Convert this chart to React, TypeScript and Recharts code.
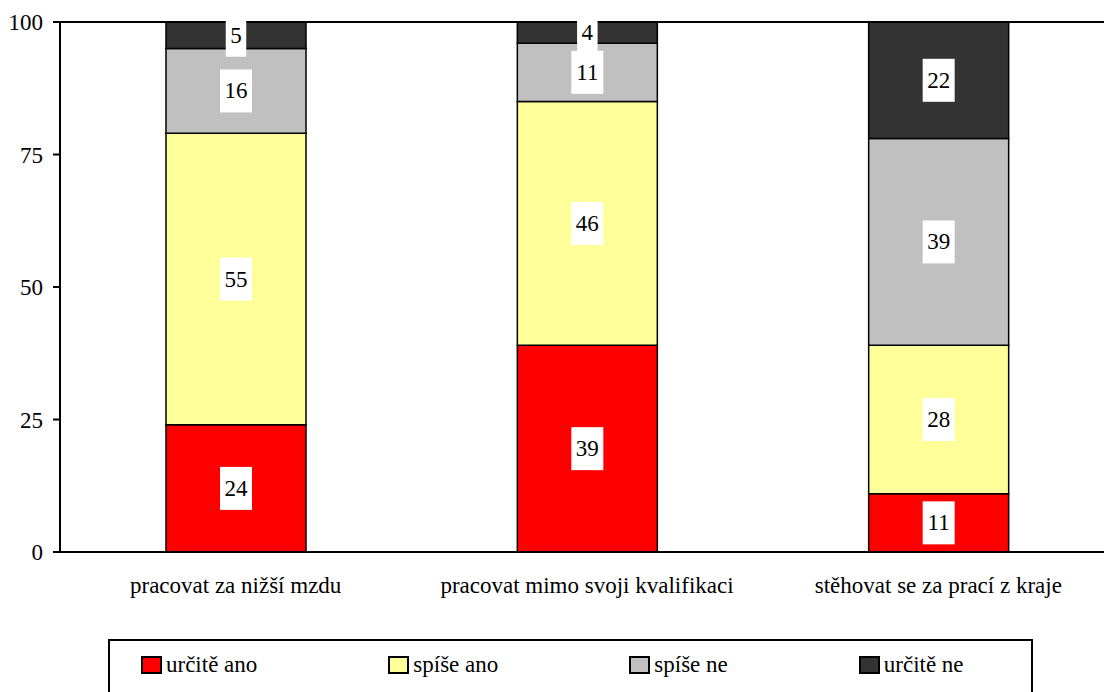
import { Bar, BarChart, LabelList, Legend, ReferenceLine, XAxis, YAxis } from 'recharts';

const categories = [
  'pracovat za nižší mzdu',
  'pracovat mimo svoji kvalifikaci',
  'stěhovat se za prací z kraje',
];
const urciteAno = [24, 39, 11];
const spiseAno = [55, 46, 28];
const spiseNe = [16, 11, 39];
const urciteNe = [5, 4, 22];
const seriesNames = ['určitě ano', 'spíše ano', 'spíše ne', 'určitě ne'];
const yTicks = [0, 25, 50, 75, 100];
const edgeTicks = [0, 1, 2, 3];

const FONT = "'Liberation Serif', 'DejaVu Serif', 'Times New Roman', serif";

const data = categories.map((name, i) => ({
  name,
  urciteAno: urciteAno[i],
  spiseAno: spiseAno[i],
  spiseNe: spiseNe[i],
  urciteNe: urciteNe[i],
}));

function ValueBox(props: any) {
  const { x, y, width, height, value } = props;
  const cx = Number(x) + Number(width) / 2;
  const cy = Number(y) + Number(height) / 2;
  const w = String(value).length * 11.5 + 9;
  const h = 43;
  return (
    <g>
      <rect x={cx - w / 2} y={cy - h / 2} width={w} height={h} fill="#fff" />
      <text
        x={cx}
        y={cy}
        textAnchor="middle"
        dominantBaseline="central"
        style={{ fontFamily: FONT }}
        fontSize={23}
        fill="#000"
      >
        {value}
      </text>
    </g>
  );
}

function LegendBox({ payload }: any) {
  const items = [...(payload || [])].sort(
    (a: any, b: any) => seriesNames.indexOf(a.value) - seriesNames.indexOf(b.value),
  );
  return (
    <div
      style={{
        boxSizing: 'border-box',
        height: 60,
        border: '2px solid #000',
        display: 'flex',
        alignItems: 'center',
        paddingLeft: 31,
        paddingBottom: 8,
        gap: 131,
        fontFamily: FONT,
        fontSize: 23,
        color: '#000',
        background: '#fff',
      }}
    >
      {items.map((p: any) => (
        <div key={p.value} style={{ display: 'flex', alignItems: 'center' }}>
          <span
            style={{
              display: 'inline-block',
              boxSizing: 'border-box',
              width: 21,
              height: 18,
              background: p.color,
              border: '2px solid #000',
              marginRight: 4,
            }}
          />
          <span>{p.value}</span>
        </div>
      ))}
    </div>
  );
}

const tickStyle = { fill: '#000', fontSize: 23, style: { fontFamily: FONT } };

export default function App() {
  return (
    <div
      style={{
        position: 'absolute',
        left: 0,
        top: 0,
        width: 1104,
        height: 692,
        overflow: 'hidden',
        background: '#fff',
        fontFamily: FONT,
      }}
    >
      <BarChart
        width={1130}
        height={692}
        data={data}
        margin={{ top: 22, right: 16, left: 0, bottom: 40 }}
        style={{ fontFamily: FONT }}
      >
        <XAxis
          xAxisId="edge"
          type="number"
          domain={[0, 3]}
          ticks={edgeTicks}
          allowDataOverflow
          tick={false}
          axisLine={false}
          tickLine={{ stroke: '#000', strokeWidth: 2 }}
          tickSize={6}
          height={0}
        />
        <XAxis
          dataKey="name"
          xAxisId="cat"
          height={40}
          axisLine={{ stroke: '#000', strokeWidth: 2 }}
          tickLine={false}
          tickSize={0}
          tickMargin={25}
          interval={0}
          tick={tickStyle}
        />
        <YAxis
          width={60}
          domain={[0, 100]}
          ticks={yTicks}
          interval={0}
          axisLine={{ stroke: '#000', strokeWidth: 2 }}
          tickLine={{ stroke: '#000', strokeWidth: 2 }}
          tickSize={7}
          tickMargin={10}
          tick={tickStyle}
        />
        <ReferenceLine y={100} xAxisId="cat" stroke="#000" strokeWidth={2} />
        <Bar dataKey="urciteAno" name={seriesNames[0]} xAxisId="cat" stackId="a" fill="#ff0000" stroke="#000" strokeWidth={1.5} barSize={140} isAnimationActive={false}>
          <LabelList dataKey="urciteAno" content={ValueBox} />
        </Bar>
        <Bar dataKey="spiseAno" name={seriesNames[1]} xAxisId="cat" stackId="a" fill="#ffff99" stroke="#000" strokeWidth={1.5} barSize={140} isAnimationActive={false}>
          <LabelList dataKey="spiseAno" content={ValueBox} />
        </Bar>
        <Bar dataKey="spiseNe" name={seriesNames[2]} xAxisId="cat" stackId="a" fill="#c0c0c0" stroke="#000" strokeWidth={1.5} barSize={140} isAnimationActive={false}>
          <LabelList dataKey="spiseNe" content={ValueBox} />
        </Bar>
        <Bar dataKey="urciteNe" name={seriesNames[3]} xAxisId="cat" stackId="a" fill="#333333" stroke="#000" strokeWidth={1.5} barSize={140} isAnimationActive={false}>
          <LabelList dataKey="urciteNe" content={ValueBox} />
        </Bar>
        <Legend
          verticalAlign="bottom"
          content={<LegendBox />}
          wrapperStyle={{ left: 108, top: 639, bottom: 'auto', width: 925, height: 60 }}
        />
      </BarChart>
    </div>
  );
}
